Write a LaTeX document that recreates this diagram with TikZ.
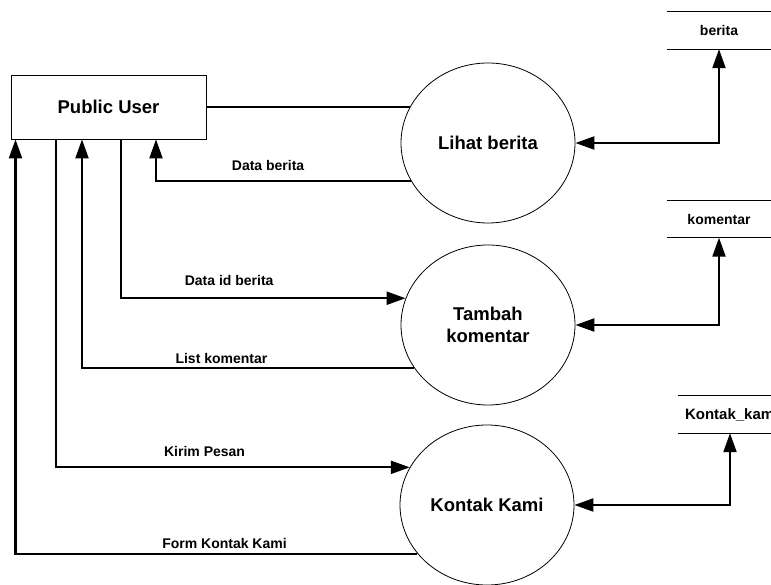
\documentclass[tikz,border=0pt]{standalone}
\usepackage{fontspec}
\setmainfont{Liberation Sans}
\usepackage{tikz}
\usetikzlibrary{shapes.geometric,arrows.meta}

\begin{document}
\begin{tikzpicture}[%
		  x=1pt,y=-1pt,
		  >={Triangle[length=19pt,width=13pt]},
		  entity/.style={draw,line width=0.8pt,minimum width=195pt,minimum height=64pt,
		    font=\fontsize{18.5}{22}\selectfont\bfseries},
		  process/.style={draw,ellipse,line width=0.8pt,minimum width=174pt,minimum height=160pt,
		    align=center,font=\fontsize{18.5}{22}\selectfont\bfseries},
		  store/.style={minimum width=104pt,minimum height=37pt,font=\fontsize{14}{16}\selectfont\bfseries},
		  lbl/.style={inner sep=0pt,font=\fontsize{14}{16}\selectfont\bfseries},
		  flow/.style={line width=2.2pt,->},
		  biflow/.style={line width=2.2pt,<->}]
		  \useasboundingbox (0,0) rectangle (771,585);
		  \clip (0,0) rectangle (771,585);
		  \node[entity] (user) at (108.5,107) {Public User};
		  \node[process] (lihat) at (488,143) {Lihat berita};
		  \node[process] (tambah) at (488,325) {Tambah\\komentar};
		  \node[process] (kontak) at (487,505) {Kontak Kami};
		  \node[store] (berita) at (719,30.5) {berita};
		  \node[store] (komentar) at (719,219) {komentar};
		  \node[store,text width=90pt,align=left,font=\fontsize{15}{17}\selectfont\bfseries]
		    (kontakkami) at (730,414.5) {\hbox{Kontak\_kami}};
		  \foreach \s in {berita,komentar,kontakkami}
		    \draw[line width=1pt] (\s.north west) -- (\s.north east) (\s.south west) -- (\s.south east);
		  \draw[line width=2.2pt] (user.east) -- (user.east -| lihat.155);
		  \draw[flow] (lihat.206) -| ([xshift=47.5pt]user.south)
		    node[lbl,pos=0.28,above=9pt] (databerita) {Data berita};
		  \draw[flow] ([xshift=12.5pt]user.south) |- (tambah.162)
		    node[lbl,pos=0.69,above=11pt] (dataid) {Data id berita};
		  \draw[flow] (tambah.210) -| ([xshift=-26.5pt]user.south)
		    node[lbl,pos=0.29,above=3pt] (listkomentar) {List komentar};
		  \draw[flow] ([xshift=-52.5pt]user.south) |- (kontak.154)
		    node[lbl,pos=0.71,above=10pt] (kirim) {Kirim Pesan};
		  \draw[flow] (kontak.215) -| ([xshift=-93pt]user.south)
		    node[lbl,pos=0.24,above=4pt] (form) {Form Kontak Kami};
		  \draw[biflow] (lihat.east) -| (berita.south);
		  \draw[biflow] (tambah.east) -| (komentar.south);
		  \draw[biflow] (kontak.east) -| (kontakkami.south);
\end{tikzpicture}
\end{document}
